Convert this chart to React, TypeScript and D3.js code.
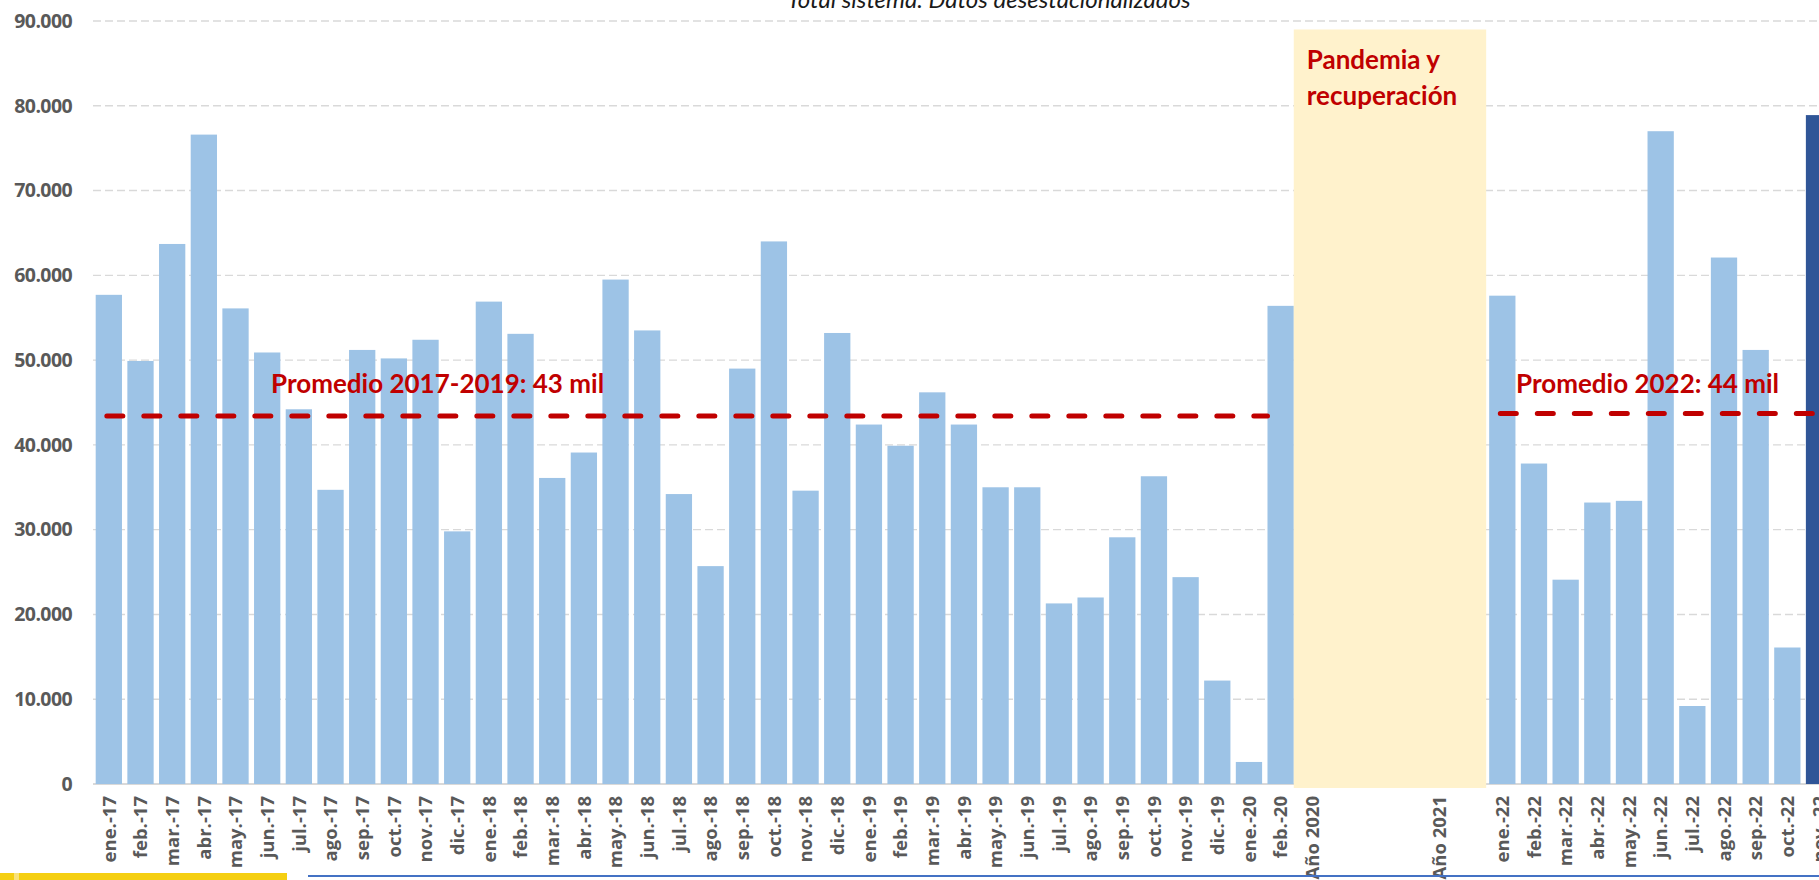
import React from 'react';
import * as d3 from 'd3';

const W = 1819;
const H = 880;

// Monthly values, 2017 – Feb 2020
const monthsPre = [
  'ene.-17', 'feb.-17', 'mar.-17', 'abr.-17', 'may.-17', 'jun.-17', 'jul.-17', 'ago.-17', 'sep.-17', 'oct.-17', 'nov.-17', 'dic.-17',
  'ene.-18', 'feb.-18', 'mar.-18', 'abr.-18', 'may.-18', 'jun.-18', 'jul.-18', 'ago.-18', 'sep.-18', 'oct.-18', 'nov.-18', 'dic.-18',
  'ene.-19', 'feb.-19', 'mar.-19', 'abr.-19', 'may.-19', 'jun.-19', 'jul.-19', 'ago.-19', 'sep.-19', 'oct.-19', 'nov.-19', 'dic.-19',
  'ene.-20', 'feb.-20',
];
const valuesPre = [
  57700, 49900, 63700, 76600, 56100, 50900, 44200, 34700, 51200, 50200, 52400, 29800,
  56900, 53100, 36100, 39100, 59500, 53500, 34200, 25700, 49000, 64000, 34600, 53200,
  42400, 39900, 46200, 42400, 35000, 35000, 21300, 22000, 29100, 36300, 24400, 12200,
  2600, 56400,
];

// Pandemic gap slots (only the "Año" ones carry a label)
const gapSlots = ['Año 2020', 'gap-a', 'gap-b', 'gap-c', 'Año 2021', 'gap-d'];

// 2022
const months22 = ['ene.-22', 'feb.-22', 'mar.-22', 'abr.-22', 'may.-22', 'jun.-22', 'jul.-22', 'ago.-22', 'sep.-22', 'oct.-22'];
const values22 = [57600, 37800, 24100, 33200, 33400, 77000, 9200, 62100, 51200, 16100];
const lastMonth = 'nov.-22';
const lastValue = 78900;

const yTicks = [0, 10000, 20000, 30000, 40000, 50000, 60000, 70000, 80000, 90000];

const title = 'Total sistema. Datos desestacionalizados';
const avgLabel1 = 'Promedio 2017-2019: 43 mil';
const avgLabel2 = 'Promedio 2022: 44 mil';
const boxLabel = ['Pandemia y', 'recuperación'];

const categories = [...monthsPre, ...gapSlots, ...months22, lastMonth];

const fmt = (v: number) => (v === 0 ? '0' : d3.format(',')(v).replace(/,/g, '.'));

export default function App() {
  const step = 31.67;
  const x0 = 93;
  const x = d3
    .scaleBand<string>()
    .domain(categories)
    .range([x0, x0 + step * categories.length])
    .paddingInner(0.17)
    .paddingOuter(0.085);
  const y = d3.scaleLinear().domain([0, 90000]).range([784, 21]);
  const bw = x.bandwidth();

  const bars = [
    ...monthsPre.map((m, i) => ({ m, v: valuesPre[i], dark: false })),
    ...months22.map((m, i) => ({ m, v: values22[i], dark: false })),
    { m: lastMonth, v: lastValue, dark: true },
  ];

  const avg1 = d3.mean(valuesPre.slice(0, 36)) as number;
  const avg2 = d3.mean([...values22, lastValue]) as number;

  const boxX1 = (x('feb.-20') as number) + bw;
  const boxX2 = (x('ene.-22') as number) - 3;

  const labelColor = '#595959';
  const red = '#C00000';

  return (
    <svg
      width={W}
      height={H}
      style={{ position: 'absolute', left: 0, top: 0, display: 'block', background: '#fff' }}
    >
      {/* gridlines */}
      {yTicks.slice(1).map((t) => (
        <line
          key={t}
          x1={x0}
          x2={W}
          y1={y(t)}
          y2={y(t)}
          stroke="#D9D9D9"
          strokeWidth={1.4}
          strokeDasharray="8 4"
        />
      ))}
      {/* baseline */}
      <line x1={x0} x2={W} y1={y(0)} y2={y(0)} stroke="#D9D9D9" strokeWidth={2} />

      {/* y labels */}
      {yTicks.map((t) => (
        <text
          key={t}
          x={72}
          y={y(t)}
          dy="0.35em"
          textAnchor="end"
          fontFamily="'Open Sans', sans-serif"
          fontWeight={700}
          fontSize={19.5}
          fill={labelColor}
          letterSpacing={-0.6}
        >
          {fmt(t)}
        </text>
      ))}

      {/* bars */}
      {bars.map((b) => (
        <rect
          key={b.m}
          x={x(b.m)}
          y={y(b.v)}
          width={bw}
          height={y(0) - y(b.v)}
          fill={b.dark ? '#2F5597' : '#9DC3E6'}
        />
      ))}

      {/* pandemic box */}
      <rect x={boxX1} y={y(89000)} width={boxX2 - boxX1} height={y(0) + 4 - y(89000)} fill="#FFF2CC" />
      {boxLabel.map((l, i) => (
        <text
          key={l}
          x={boxX1 + 13}
          y={y(89000) + 40 + i * 36}
          fontFamily="Lato, sans-serif"
          fontWeight={700}
          fontSize={26}
          fill={red}
        >
          {l}
        </text>
      ))}

      {/* x labels */}
      {categories.map((c) => {
        if (c.startsWith('gap')) return null;
        const cx = (x(c) as number) + bw / 2;
        return (
          <text
            key={c}
            transform={`translate(${cx},796) rotate(-90)`}
            dy="0.36em"
            textAnchor="end"
            fontFamily="'Open Sans', sans-serif"
            fontWeight={700}
            fontSize={18.5}
            fill={labelColor}
          >
            {c}
          </text>
        );
      })}

      {/* average lines */}
      <line
        x1={(x('ene.-17') as number) + bw / 2 - 2}
        x2={x('feb.-20') as number}
        y1={y(avg1)}
        y2={y(avg1)}
        stroke={red}
        strokeWidth={5}
        strokeLinecap="round"
        strokeDasharray="16 21"
      />
      <line
        x1={(x('ene.-22') as number) + bw / 2 - 2}
        x2={W}
        y1={y(avg2)}
        y2={y(avg2)}
        stroke={red}
        strokeWidth={5}
        strokeLinecap="round"
        strokeDasharray="16 21"
      />
      <text x={271} y={393} fontFamily="Lato, sans-serif" fontWeight={700} fontSize={26} fill={red}>
        {avgLabel1}
      </text>
      <text x={1516} y={393} fontFamily="Lato, sans-serif" fontWeight={700} fontSize={26} fill={red}>
        {avgLabel2}
      </text>

      {/* title (partly cut at top) */}
      <text
        x={989}
        y={8}
        textAnchor="middle"
        fontFamily="Lato, sans-serif"
        fontStyle="italic"
        fontSize={24}
        fill="#1a1a1a"
      >
        {title}
      </text>

      {/* bottom decorations */}
      <rect x={0} y={873} width={287} height={7} fill="#F5CF12" />
      <rect x={14} y={873} width={5} height={7} fill="#F9E27A" />
      <line x1={308} x2={W} y1={876} y2={876} stroke="#4472C4" strokeWidth={2} />
    </svg>
  );
}
